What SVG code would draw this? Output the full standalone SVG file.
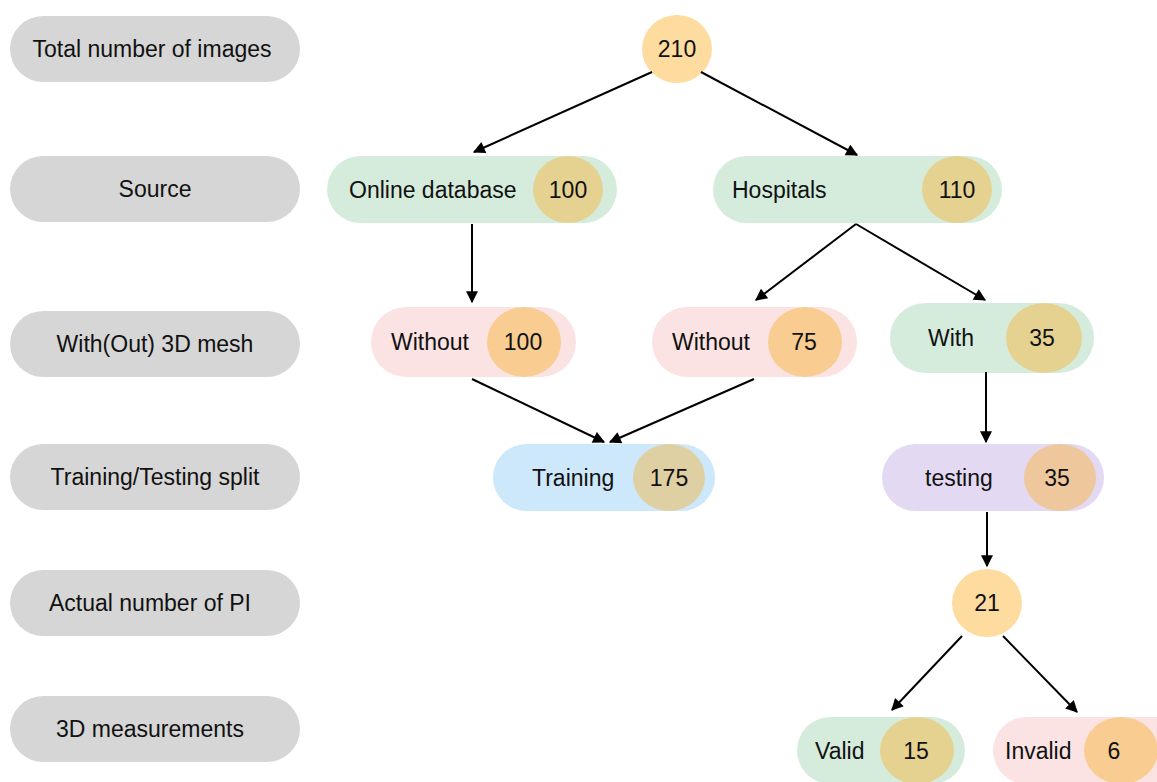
<svg xmlns="http://www.w3.org/2000/svg" width="1157" height="782" viewBox="0 0 1157 782">
<style>
text{font-family:"Liberation Sans",Arial,sans-serif;font-size:23px;fill:#111;dominant-baseline:central}
.lab{fill:#d6d6d6}
.g{fill:#d5ecdc}.gc{fill:#e6d290}
.p{fill:#fbe3e3}.pc{fill:#f9cc92}
.b{fill:#cde8fb}.bc{fill:#dfd0a3}
.v{fill:#e3d9f3}.vc{fill:#efc79d}
.o{fill:#fedc9f}
.c{text-anchor:middle}
.conn line{stroke:#000;stroke-width:2;marker-end:url(#ah)}
</style>
<defs>
<marker id="ah" viewBox="0 0 10 10" refX="9" refY="5" markerWidth="6.5" markerHeight="6" orient="auto" markerUnits="strokeWidth">
<path d="M0,0 L10,5 L0,10 z" fill="#000"/>
</marker>
</defs>
<rect width="1157" height="782" fill="#fff"/>
<g id="labels">
<g id="l1"><rect class="lab" x="10" y="16" width="290" height="66" rx="33"/><text class="c" x="152" y="49">Total number of images</text></g>
<g id="l2"><rect class="lab" x="10" y="156" width="290" height="66" rx="33"/><text class="c" x="155" y="189">Source</text></g>
<g id="l3"><rect class="lab" x="10" y="311" width="290" height="66" rx="33"/><text class="c" x="155" y="344">With(Out) 3D mesh</text></g>
<g id="l4"><rect class="lab" x="10" y="444" width="290" height="66" rx="33"/><text class="c" x="155" y="477">Training/Testing split</text></g>
<g id="l5"><rect class="lab" x="10" y="570" width="290" height="66" rx="33"/><text class="c" x="150" y="603">Actual number of PI</text></g>
<g id="l6"><rect class="lab" x="10" y="696" width="290" height="66" rx="33"/><text class="c" x="150" y="729">3D measurements</text></g>
</g>
<g id="n210"><ellipse class="o" cx="677" cy="49" rx="35" ry="34"/><text class="c" x="677" y="49">210</text></g>
<g id="nOnline"><rect class="g" x="327" y="156" width="290" height="67" rx="33.5"/><ellipse class="gc" cx="568" cy="189.5" rx="35" ry="33.5"/><text x="349" y="189.5">Online database</text><text class="c" x="568" y="189.5">100</text></g>
<g id="nHosp"><rect class="g" x="713" y="156" width="289" height="67" rx="33.5"/><ellipse class="gc" cx="957" cy="189.5" rx="35" ry="33.5"/><text x="732" y="189.5">Hospitals</text><text class="c" x="957" y="189.5">110</text></g>
<g id="nWo100"><rect class="p" x="371" y="307" width="205" height="70" rx="35"/><ellipse class="pc" cx="524" cy="342" rx="37" ry="35"/><text x="391" y="342">Without</text><text class="c" x="523" y="342">100</text></g>
<g id="nWo75"><rect class="p" x="652" y="307" width="205" height="70" rx="35"/><ellipse class="pc" cx="805" cy="342" rx="37" ry="35"/><text x="672" y="342">Without</text><text class="c" x="804" y="342">75</text></g>
<g id="nWith"><rect class="g" x="890" y="303" width="204" height="70" rx="35"/><ellipse class="gc" cx="1044" cy="338" rx="38" ry="35"/><text x="928" y="338">With</text><text class="c" x="1042" y="338">35</text></g>
<g id="nTrain"><rect class="b" x="493" y="444" width="222" height="67" rx="33.5"/><ellipse class="bc" cx="669" cy="477.5" rx="36" ry="33.5"/><text x="532" y="477.5">Training</text><text class="c" x="669" y="477.5">175</text></g>
<g id="nTest"><rect class="v" x="882" y="444" width="222" height="67" rx="33.5"/><ellipse class="vc" cx="1060" cy="477.5" rx="36" ry="33.5"/><text x="925" y="477.5">testing</text><text class="c" x="1057" y="477.5">35</text></g>
<g id="n21"><ellipse class="o" cx="987" cy="603" rx="35" ry="34"/><text class="c" x="987" y="603">21</text></g>
<g id="nValid"><rect class="g" x="797" y="717" width="168" height="67" rx="33.5"/><ellipse class="gc" cx="917" cy="750.5" rx="37" ry="33.5"/><text x="815" y="750.5">Valid</text><text class="c" x="916" y="750.5">15</text></g>
<g id="nInvalid"><rect class="p" x="993" y="717" width="200" height="67" rx="33.5"/><ellipse class="pc" cx="1121" cy="750.5" rx="37" ry="33.5"/><text x="1005" y="750.5">Invalid</text><text class="c" x="1114" y="750.5">6</text></g>
<g class="conn" id="connectors">
<line x1="652" y1="72" x2="474" y2="152"/>
<line x1="701" y1="72" x2="857" y2="155"/>
<line x1="472" y1="224" x2="472" y2="302"/>
<line x1="856" y1="224" x2="756" y2="300"/>
<line x1="856" y1="224" x2="985" y2="300"/>
<line x1="472" y1="379" x2="604" y2="442"/>
<line x1="754" y1="379" x2="610" y2="442"/>
<line x1="986" y1="372" x2="986" y2="442"/>
<line x1="987" y1="512" x2="987" y2="566"/>
<line x1="962" y1="636" x2="892" y2="710"/>
<line x1="1003" y1="636" x2="1077" y2="712"/>
</g>
</svg>
